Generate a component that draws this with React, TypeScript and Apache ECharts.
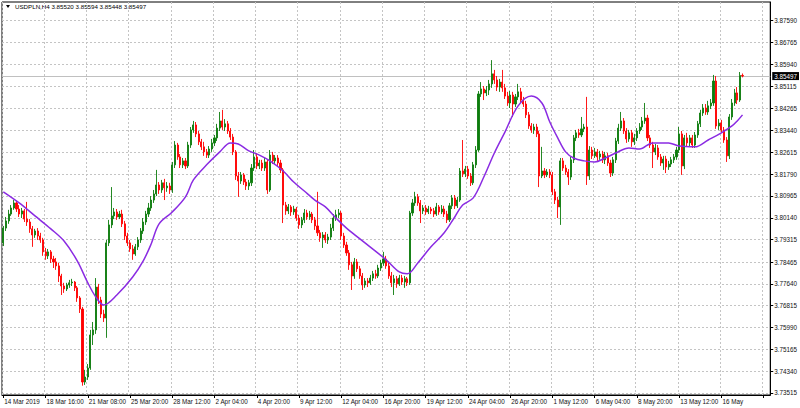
import React, { useEffect, useRef } from 'react';
import * as echarts from 'echarts';

const symbolTitle = 'USDPLN,H4';
const lastOpen = 3.8552;
const lastHigh = 3.85594;
const lastLow = 3.85448;
const lastClose = 3.85497;
const bidPrice = 3.85497;

const xTickLabels = [
  '14 Mar 2019', '18 Mar 16:00', '21 Mar 08:00', '25 Mar 20:00', '28 Mar 12:00', '2 Apr 04:00',
  '4 Apr 20:00', '9 Apr 12:00', '12 Apr 04:00', '16 Apr 20:00', '19 Apr 12:00', '24 Apr 04:00',
  '26 Apr 20:00', '1 May 12:00', '6 May 04:00', '8 May 20:00', '13 May 12:00', '16 May',
];
const yTickValues = [
  3.8759, 3.86765, 3.8594, 3.85115, 3.84265, 3.8344, 3.82615, 3.8179, 3.80965,
  3.8014, 3.79315, 3.78465, 3.7764, 3.76815, 3.7599, 3.75165, 3.7434, 3.73515,
];
const TOTAL_SLOTS = 291;

const opens = [
3.7919,3.7975,3.8002,3.8028,3.8051,3.8070,3.8047,3.8028,3.8040,3.8009,
3.7998,3.7972,3.7949,3.7964,3.7945,3.7930,3.7885,3.7870,3.7885,3.7858,
3.7847,3.7832,3.7794,3.7756,3.7745,3.7760,3.7768,3.7771,3.7749,3.7711,
3.7669,3.7393,3.7412,3.7446,3.7571,3.7590,3.7752,3.7703,3.7650,3.7635,
3.7919,3.7987,3.8021,3.8036,3.8017,3.8028,3.7991,3.7945,3.7919,3.7896,
3.7877,3.7904,3.7930,3.7964,3.7998,3.8028,3.8051,3.8081,3.8104,3.8138,
3.8119,3.8146,3.8127,3.8134,3.8119,3.8214,3.8289,3.8244,3.8214,3.8229,
3.8210,3.8289,3.8346,3.8365,3.8331,3.8301,3.8282,3.8263,3.8251,3.8274,
3.8297,3.8316,3.8353,3.8380,3.8357,3.8369,3.8342,3.8319,3.8263,3.8172,
3.8153,3.8176,3.8149,3.8134,3.8146,3.8202,3.8244,3.8210,3.8221,3.8202,
3.8225,3.8119,3.8251,3.8229,3.8240,3.8221,3.8195,3.8062,3.8040,3.8055,
3.8036,3.8047,3.8013,3.7987,3.8006,3.8032,3.8017,3.8028,3.8006,3.7983,
3.7957,3.7938,3.7949,3.7930,3.7941,3.7975,3.8013,3.8025,3.8032,3.7945,
3.7911,3.7881,3.7836,3.7794,3.7847,3.7821,3.7794,3.7760,3.7775,3.7768,
3.7786,3.7802,3.7794,3.7824,3.7843,3.7858,3.7832,3.7794,3.7768,3.7783,
3.7764,3.7786,3.7771,3.7783,3.7768,3.8032,3.8070,3.8093,3.8070,3.8040,
3.8051,3.8036,3.8047,3.8040,3.8028,3.8055,3.8036,3.8047,3.8028,3.8006,
3.8059,3.8089,3.8059,3.8081,3.8191,3.8180,3.8198,3.8172,3.8146,3.8214,
3.8270,3.8482,3.8501,3.8486,3.8497,3.8520,3.8558,3.8535,3.8508,3.8527,
3.8505,3.8474,3.8448,3.8478,3.8444,3.8471,3.8490,3.8459,3.8444,3.8403,
3.8361,3.8346,3.8357,3.8331,3.8172,3.8191,3.8176,3.8187,3.8176,3.8112,
3.8081,3.8055,3.8229,3.8202,3.8187,3.8168,3.8233,3.8316,3.8335,3.8327,
3.8350,3.8357,3.8172,3.8270,3.8248,3.8263,3.8244,3.8255,3.8233,3.8248,
3.8221,3.8183,3.8233,3.8304,3.8353,3.8380,3.8342,3.8312,3.8335,3.8301,
3.8316,3.8342,3.8357,3.8380,3.8391,3.8316,3.8289,3.8263,3.8278,3.8244,
3.8221,3.8236,3.8206,3.8217,3.8233,3.8244,3.8270,3.8331,3.8210,3.8316,
3.8297,3.8316,3.8289,3.8327,3.8369,3.8410,3.8429,3.8414,3.8437,3.8448,
3.8531,3.8361,3.8372,3.8346,3.8308,3.8248,3.8395,3.8448,3.8486,3.8459,
lastOpen,
];

const closes = [
3.7975,3.8002,3.8028,3.8051,3.8070,3.8047,3.8028,3.8040,3.8009,3.7998,
3.7972,3.7949,3.7964,3.7945,3.7930,3.7885,3.7870,3.7885,3.7858,3.7847,
3.7832,3.7794,3.7756,3.7745,3.7760,3.7768,3.7771,3.7749,3.7711,3.7669,
3.7393,3.7412,3.7446,3.7571,3.7590,3.7752,3.7703,3.7650,3.7635,3.7919,
3.7987,3.8021,3.8036,3.8017,3.8028,3.7991,3.7945,3.7919,3.7896,3.7877,
3.7904,3.7930,3.7964,3.7998,3.8028,3.8051,3.8081,3.8104,3.8138,3.8119,
3.8146,3.8127,3.8134,3.8119,3.8214,3.8289,3.8244,3.8214,3.8229,3.8210,
3.8289,3.8346,3.8365,3.8331,3.8301,3.8282,3.8263,3.8251,3.8274,3.8297,
3.8316,3.8353,3.8380,3.8357,3.8369,3.8342,3.8319,3.8263,3.8172,3.8153,
3.8176,3.8149,3.8134,3.8146,3.8202,3.8244,3.8210,3.8221,3.8202,3.8225,
3.8119,3.8251,3.8229,3.8240,3.8221,3.8195,3.8062,3.8040,3.8055,3.8036,
3.8047,3.8013,3.7987,3.8006,3.8032,3.8017,3.8028,3.8006,3.7983,3.7957,
3.7938,3.7949,3.7930,3.7941,3.7975,3.8013,3.8025,3.8032,3.7945,3.7911,
3.7881,3.7836,3.7794,3.7847,3.7821,3.7794,3.7760,3.7775,3.7768,3.7786,
3.7802,3.7794,3.7824,3.7843,3.7858,3.7832,3.7794,3.7768,3.7783,3.7764,
3.7786,3.7771,3.7783,3.7768,3.8032,3.8070,3.8093,3.8070,3.8040,3.8051,
3.8036,3.8047,3.8040,3.8028,3.8055,3.8036,3.8047,3.8028,3.8006,3.8059,
3.8089,3.8059,3.8081,3.8191,3.8180,3.8198,3.8172,3.8146,3.8214,3.8270,
3.8482,3.8501,3.8486,3.8497,3.8520,3.8558,3.8535,3.8508,3.8527,3.8505,
3.8474,3.8448,3.8478,3.8444,3.8471,3.8490,3.8459,3.8444,3.8403,3.8361,
3.8346,3.8357,3.8331,3.8172,3.8191,3.8176,3.8187,3.8176,3.8112,3.8081,
3.8055,3.8229,3.8202,3.8187,3.8168,3.8233,3.8316,3.8335,3.8327,3.8350,
3.8357,3.8172,3.8270,3.8248,3.8263,3.8244,3.8255,3.8233,3.8248,3.8221,
3.8183,3.8233,3.8304,3.8353,3.8380,3.8342,3.8312,3.8335,3.8301,3.8316,
3.8342,3.8357,3.8380,3.8391,3.8316,3.8289,3.8263,3.8278,3.8244,3.8221,
3.8236,3.8206,3.8217,3.8233,3.8244,3.8270,3.8331,3.8210,3.8316,3.8297,
3.8316,3.8289,3.8327,3.8369,3.8410,3.8429,3.8414,3.8437,3.8448,3.8531,
3.8361,3.8372,3.8346,3.8308,3.8248,3.8395,3.8448,3.8486,3.8459,3.8552,
lastClose,
];

const lows = [
3.7907,3.7964,3.7991,3.8021,3.8044,3.8036,3.8017,3.8013,3.7998,3.7983,
3.7957,3.7904,3.7938,3.7930,3.7919,3.7870,3.7855,3.7858,3.7843,3.7824,
3.7817,3.7771,3.7722,3.7730,3.7737,3.7749,3.7756,3.7737,3.7696,3.7654,
3.7379,3.7382,3.7401,3.7439,3.7533,3.7575,3.7688,3.7635,3.7620,3.7560,
3.7907,3.7975,3.8009,3.8006,3.8009,3.7979,3.7930,3.7907,3.7885,3.7855,
3.7870,3.7892,3.7919,3.7953,3.7987,3.8017,3.8040,3.8070,3.8096,3.8104,
3.8108,3.8081,3.8112,3.8104,3.8108,3.8202,3.8233,3.8202,3.8202,3.8198,
3.8202,3.8278,3.8335,3.8319,3.8289,3.8270,3.8248,3.8240,3.8240,3.8263,
3.8285,3.8304,3.8342,3.8346,3.8342,3.8331,3.8308,3.8251,3.8157,3.8093,
3.8142,3.8138,3.8119,3.8119,3.8134,3.8191,3.8198,3.8198,3.8191,3.8191,
3.8104,3.8112,3.8217,3.8217,3.8210,3.8183,3.7994,3.8025,3.8028,3.8021,
3.8025,3.8002,3.7972,3.7975,3.7994,3.8006,3.8006,3.7994,3.7968,3.7945,
3.7923,3.7900,3.7919,3.7915,3.7930,3.7964,3.8002,3.8013,3.7930,3.7900,
3.7870,3.7817,3.7741,3.7783,3.7809,3.7783,3.7741,3.7749,3.7752,3.7760,
3.7775,3.7783,3.7786,3.7813,3.7832,3.7821,3.7783,3.7752,3.7722,3.7749,
3.7756,3.7760,3.7749,3.7756,3.7760,3.8021,3.8059,3.8059,3.7994,3.8028,
3.8025,3.8028,3.8028,3.8017,3.8021,3.8025,3.8028,3.8017,3.7994,3.7998,
3.8047,3.8047,3.8051,3.8074,3.8168,3.8168,3.8161,3.8134,3.8138,3.8202,
3.8263,3.8471,3.8459,3.8474,3.8478,3.8505,3.8520,3.8493,3.8490,3.8490,
3.8463,3.8437,3.8429,3.8395,3.8433,3.8459,3.8448,3.8433,3.8391,3.8350,
3.8335,3.8331,3.8319,3.8130,3.8164,3.8164,3.8168,3.8164,3.8100,3.8066,
3.8013,3.7987,3.8191,3.8176,3.8138,3.8157,3.8221,3.8304,3.8316,3.8319,
3.8338,3.8138,3.8157,3.8236,3.8240,3.8229,3.8233,3.8221,3.8217,3.8210,
3.8168,3.8172,3.8221,3.8293,3.8342,3.8331,3.8297,3.8301,3.8282,3.8289,
3.8304,3.8331,3.8346,3.8369,3.8304,3.8278,3.8202,3.8251,3.8233,3.8210,
3.8195,3.8183,3.8195,3.8206,3.8221,3.8233,3.8259,3.8176,3.8198,3.8285,
3.8282,3.8278,3.8278,3.8316,3.8357,3.8399,3.8403,3.8403,3.8425,3.8437,
3.8350,3.8346,3.8335,3.8297,3.8225,3.8236,3.8384,3.8437,3.8444,3.8452,
lastLow,
];

const highs = [
3.7983,3.8017,3.8044,3.8062,3.8081,3.8078,3.8062,3.8051,3.8047,3.8074,
3.8009,3.7983,3.7972,3.7975,3.7957,3.7938,3.7900,3.7896,3.7892,3.7870,
3.7862,3.7843,3.7802,3.7768,3.7768,3.7779,3.7783,3.7775,3.7756,3.7718,
3.7677,3.7439,3.7461,3.7590,3.7620,3.7786,3.7764,3.7715,3.7666,3.7930,
3.8006,3.8130,3.8051,3.8047,3.8040,3.8044,3.8002,3.7957,3.7930,3.7911,
3.7915,3.7941,3.7975,3.8013,3.8040,3.8070,3.8096,3.8119,3.8195,3.8149,
3.8157,3.8161,3.8149,3.8146,3.8225,3.8304,3.8297,3.8255,3.8240,3.8240,
3.8301,3.8357,3.8380,3.8376,3.8342,3.8312,3.8301,3.8274,3.8285,3.8312,
3.8327,3.8369,3.8414,3.8422,3.8387,3.8380,3.8353,3.8331,3.8270,3.8187,
3.8187,3.8183,3.8161,3.8157,3.8217,3.8270,3.8259,3.8233,3.8233,3.8240,
3.8233,3.8270,3.8263,3.8251,3.8251,3.8233,3.8202,3.8074,3.8066,3.8062,
3.8059,3.8055,3.8025,3.8017,3.8047,3.8044,3.8040,3.8036,3.8017,3.8112,
3.7968,3.7960,3.7960,3.7953,3.7991,3.8028,3.8044,3.8047,3.8040,3.7957,
3.7923,3.7892,3.7847,3.7862,3.7858,3.7832,3.7805,3.7786,3.7786,3.7798,
3.7813,3.7817,3.7836,3.7855,3.7885,3.7870,3.7843,3.7809,3.7798,3.7794,
3.7798,3.7798,3.7794,3.7790,3.8040,3.8085,3.8112,3.8104,3.8081,3.8062,
3.8062,3.8059,3.8055,3.8051,3.8070,3.8062,3.8062,3.8059,3.8040,3.8070,
3.8100,3.8100,3.8093,3.8202,3.8308,3.8210,3.8210,3.8183,3.8225,3.8285,
3.8493,3.8527,3.8512,3.8512,3.8535,3.8610,3.8573,3.8550,3.8539,3.8573,
3.8520,3.8490,3.8493,3.8490,3.8482,3.8520,3.8505,3.8471,3.8456,3.8414,
3.8372,3.8369,3.8369,3.8342,3.8282,3.8202,3.8198,3.8198,3.8187,3.8123,
3.8093,3.8240,3.8240,3.8214,3.8198,3.8244,3.8327,3.8346,3.8350,3.8395,
3.8369,3.8471,3.8285,3.8282,3.8278,3.8274,3.8267,3.8267,3.8263,3.8259,
3.8233,3.8244,3.8316,3.8369,3.8414,3.8391,3.8353,3.8346,3.8346,3.8331,
3.8353,3.8372,3.8395,3.8448,3.8403,3.8327,3.8301,3.8293,3.8289,3.8255,
3.8248,3.8248,3.8229,3.8244,3.8255,3.8282,3.8357,3.8342,3.8327,3.8335,
3.8327,3.8327,3.8338,3.8380,3.8422,3.8444,3.8444,3.8456,3.8463,3.8554,
3.8550,3.8387,3.8384,3.8357,3.8319,3.8406,3.8463,3.8501,3.8508,3.8565,
lastHigh,
];

const maIndex = [
  0, 6, 12, 18, 23, 28, 32, 35, 38, 43, 49, 53, 56, 59, 64, 69, 72, 77, 82, 86,
  89, 93, 97, 101, 106, 110, 114, 118, 122, 126, 130, 137, 145, 150, 153, 157, 162, 167, 171, 174,
  178, 182, 186, 190, 195, 200, 204, 207, 210, 213, 216, 220, 224, 228, 232, 237, 241, 246, 252, 256,
  262, 267, 272, 276, 278, 280,
];
const maValues = [
  3.8112, 3.8070, 3.8021, 3.7972, 3.7926, 3.7851, 3.7768, 3.7715, 3.7684, 3.7722,
  3.7790, 3.7851, 3.7915, 3.7991, 3.8036, 3.8093, 3.8157, 3.8214, 3.8263, 3.8297,
  3.8293, 3.8267, 3.8251, 3.8229, 3.8191, 3.8149, 3.8115, 3.8081, 3.8055, 3.8013,
  3.7975, 3.7919, 3.7855, 3.7809, 3.7802, 3.7843, 3.7904, 3.7957, 3.8017, 3.8062,
  3.8089, 3.8168, 3.8259, 3.8338, 3.8437, 3.8474, 3.8448, 3.8376, 3.8316, 3.8263,
  3.8240, 3.8229, 3.8225, 3.8240, 3.8259, 3.8278, 3.8274, 3.8297, 3.8297, 3.8285,
  3.8282, 3.8308, 3.8335, 3.8361, 3.8380, 3.8403,
];

const FONT = '"Liberation Sans", Arial, sans-serif';

export default function App() {
  const ref = useRef<HTMLDivElement>(null);
  useEffect(() => {
    if (!ref.current) return;
    const chart = echarts.init(ref.current, undefined, { renderer: 'svg' });
    const cats = Array.from({ length: TOTAL_SLOTS }, (_, i) => String(i));
    const candles = opens.map((o, i) => [o, closes[i], lows[i], highs[i]]);
    const ma = maIndex.map((idx, k) => [idx, maValues[k]]);
    const fmt = (v: number) => v.toFixed(5);
    chart.setOption({
      animation: false,
      backgroundColor: '#ffffff',
      textStyle: { fontFamily: FONT },
      grid: {
        left: 2, right: 28, top: 2, bottom: 13,
        show: true, borderColor: '#000', borderWidth: 1, backgroundColor: '#fff',
      },
      xAxis: {
        type: 'category',
        data: cats,
        boundaryGap: true,
        axisLine: { show: true, lineStyle: { color: '#000', width: 1 } },
        axisTick: { show: true, interval: 15, alignWithLabel: true, length: 3, lineStyle: { color: '#000' } },
        axisLabel: {
          interval: 15,
          align: 'left',
          margin: 3,
          fontSize: 6.3,
          color: '#111',
          fontFamily: FONT,
          padding: [0, 0, 0, 1],
          formatter: (_v: string, idx: number) => xTickLabels[idx / 16] ?? '',
        },
        splitLine: { show: true, interval: 15, lineStyle: { color: '#c4c4c4', type: [2, 2], width: 1 } },
      },
      yAxis: {
        type: 'value',
        position: 'right',
        min: 3.73439,
        max: 3.88297,
        scale: true,
        axisLine: { show: true, lineStyle: { color: '#000', width: 1 } },
        axisTick: { show: true, length: 3, customValues: yTickValues, lineStyle: { color: '#000' } },
        axisLabel: {
          customValues: yTickValues,
          formatter: (v: number) => fmt(v),
          fontSize: 6.3,
          margin: 4,
          color: '#111',
          fontFamily: FONT,
        },
        splitLine: { show: true, lineStyle: { color: '#c4c4c4', type: [2, 2], width: 1 } },
      },
      series: [
        {
          type: 'candlestick',
          data: candles,
          barWidth: 1.6,
          itemStyle: {
            color: '#0c7c0c', color0: '#ff0000',
            borderColor: '#0c7c0c', borderColor0: '#ff0000', borderWidth: 0.9,
          },
        },
        {
          type: 'line',
          data: ma,
          showSymbol: false,
          smooth: 0.35,
          lineStyle: { color: '#8a2be2', width: 1.5 },
          z: 3,
          markLine: {
            silent: true,
            precision: 5,
            symbol: ['none', 'none'],
            data: [{ yAxis: bidPrice }],
            lineStyle: { color: '#c0c0c0', type: 'solid', width: 1 },
            z: 1,
            label: {
              position: 'end',
              distance: 2,
              formatter: fmt(bidPrice),
              backgroundColor: '#000',
              color: '#fff',
              fontSize: 6.3,
              fontFamily: FONT,
              padding: [1, 2, 1, 2],
            },
          },
        },
      ],
      graphic: [
        {
          type: 'polygon',
          shape: { points: [[6, 5], [10, 5], [8, 8]] },
          style: { fill: '#000' },
        },
        {
          type: 'text',
          left: 15,
          top: 3,
          style: {
            text: `${symbolTitle} ${fmt(lastOpen)} ${fmt(lastHigh)} ${fmt(lastLow)} ${fmt(lastClose)}`,
            fontSize: 6.2,
            fontFamily: FONT,
            fill: '#000',
          },
        },
      ],
    });
    return () => chart.dispose();
  }, []);
  return <div ref={ref} style={{ position: 'fixed', left: 0, top: 0, width: 800, height: 408 }} />;
}
